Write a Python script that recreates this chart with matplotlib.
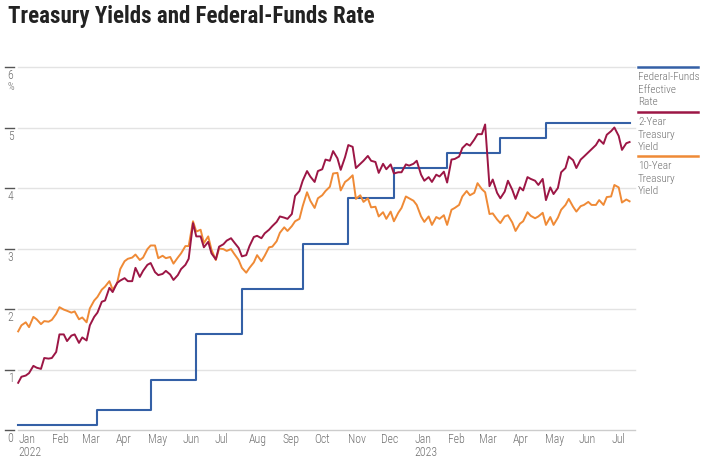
import numpy as np
import pandas as pd
import matplotlib
matplotlib.use('Agg')
import matplotlib.pyplot as plt
from matplotlib.lines import Line2D

# ── Data ─────────────────────────────────────────────────────────────
# two readings per week: Monday, Thursday (from Jan 3 2022 to Jul 20 2023)
two_year = [
    # 2022
    0.78, 0.88, 0.90, 0.94, 1.06, 1.03, 1.01, 1.19, 1.18, 1.19,   # Jan
    1.29, 1.58, 1.58, 1.47, 1.56, 1.58, 1.44, 1.53,               # Feb
    1.48, 1.73, 1.87, 1.94, 2.12, 2.14, 2.35, 2.28,               # Mar
    2.43, 2.47, 2.51, 2.46, 2.46, 2.68, 2.53, 2.63,               # Apr
    2.73, 2.76, 2.61, 2.56, 2.58, 2.63, 2.57, 2.48, 2.56, 2.66,   # May
    2.73, 2.83, 3.42, 3.20, 3.20, 3.02, 3.11, 2.92,               # Jun
    2.82, 3.03, 3.07, 3.13, 3.17, 3.10, 3.01, 2.87,               # Jul
    2.89, 3.04, 3.19, 3.21, 3.17, 3.25, 3.31, 3.37, 3.44, 3.53,   # Aug
    3.51, 3.49, 3.57, 3.87, 3.95, 4.12, 4.28, 4.19,               # Sep
    4.10, 4.28, 4.31, 4.47, 4.45, 4.61, 4.49, 4.30, 4.51, 4.71,   # Oct
    4.68, 4.33, 4.40, 4.45, 4.53, 4.45, 4.43, 4.25,               # Nov
    4.40, 4.31, 4.39, 4.24, 4.26, 4.26, 4.39, 4.37,               # Dec
    # 2023
    4.40, 4.45, 4.22, 4.12, 4.18, 4.10, 4.22, 4.19, 4.27, 4.09,   # Jan
    4.47, 4.48, 4.52, 4.66, 4.73, 4.70, 4.80, 4.89,               # Feb
    4.89, 5.05, 4.03, 4.14, 3.92, 3.83, 3.94, 4.12,               # Mar
    3.97, 3.82, 4.01, 3.96, 4.18, 4.15, 4.12, 4.05,               # Apr
    4.15, 3.80, 4.01, 3.90, 4.00, 4.26, 4.33, 4.52, 4.46, 4.33,   # May
    4.47, 4.52, 4.59, 4.64, 4.71, 4.80, 4.73, 4.88,               # Jun
    4.94, 5.00, 4.86, 4.63, 4.74, 4.76,                           # Jul
]

ten_year = [
    # 2022
    1.63, 1.73, 1.78, 1.70, 1.87, 1.83, 1.75, 1.80, 1.79, 1.82,   # Jan
    1.92, 2.03, 1.99, 1.97, 1.94, 1.96, 1.83, 1.86,               # Feb
    1.78, 2.01, 2.14, 2.20, 2.32, 2.37, 2.46, 2.32,               # Mar
    2.42, 2.66, 2.79, 2.83, 2.85, 2.90, 2.81, 2.85,               # Apr
    2.99, 3.05, 3.05, 2.84, 2.88, 2.84, 2.86, 2.75, 2.85, 2.92,   # May
    3.04, 3.04, 3.45, 3.28, 3.31, 3.09, 3.20, 2.98,               # Jun
    2.81, 3.00, 2.99, 2.96, 2.99, 2.91, 2.81, 2.68,               # Jul
    2.60, 2.68, 2.77, 2.89, 2.79, 2.88, 3.02, 3.03, 3.12, 3.26,   # Aug
    3.35, 3.29, 3.37, 3.45, 3.49, 3.70, 3.93, 3.79,               # Sep
    3.67, 3.83, 3.88, 3.95, 4.02, 4.24, 4.25, 3.96, 4.10, 4.14,   # Oct
    4.21, 3.82, 3.88, 3.77, 3.83, 3.68, 3.69, 3.53,               # Nov
    3.60, 3.49, 3.61, 3.45, 3.59, 3.67, 3.86, 3.83,               # Dec
    # 2023
    3.79, 3.72, 3.53, 3.44, 3.53, 3.39, 3.52, 3.49, 3.55, 3.39,   # Jan
    3.64, 3.67, 3.72, 3.86, 3.95, 3.88, 3.92, 4.08,               # Feb
    3.98, 3.93, 3.57, 3.58, 3.48, 3.42, 3.53, 3.55,               # Mar
    3.43, 3.29, 3.41, 3.45, 3.60, 3.54, 3.50, 3.53,               # Apr
    3.59, 3.39, 3.52, 3.39, 3.51, 3.64, 3.72, 3.82, 3.69, 3.61,   # May
    3.70, 3.72, 3.77, 3.72, 3.72, 3.80, 3.72, 3.85,               # Jun
    3.86, 4.05, 4.01, 3.76, 3.81, 3.78,                           # Jul
]

fed_dates = ['2022-01-03', '2022-03-17', '2022-05-05', '2022-06-16', '2022-07-28',
             '2022-09-22', '2022-11-03', '2022-12-15', '2023-02-02', '2023-03-23',
             '2023-05-04', '2023-07-20']
fed_rate = [0.08, 0.33, 0.83, 1.58, 2.33, 3.08, 3.83, 4.33, 4.58, 4.83, 5.08, 5.08]

y_ticks = [0, 1, 2, 3, 4, 5, 6]
month_starts = pd.date_range('2022-01-01', '2023-07-01', freq='MS')
legend_labels = [['Federal-Funds', 'Effective', 'Rate'],
                 ['2-Year', 'Treasury', 'Yield'],
                 ['10-Year', 'Treasury', 'Yield']]

mondays = pd.date_range('2022-01-03', '2023-07-17', freq='W-MON')
dates = pd.DatetimeIndex(np.ravel(np.column_stack([mondays.values,
                                                   (mondays + pd.Timedelta(days=3)).values])))
assert len(dates) == len(two_year) == len(ten_year)

# ── Style ────────────────────────────────────────────────────────────
BLUE = '#3460a6'
RED = '#9c1645'
ORANGE = '#ef8a36'
GRID = '#e3e3e3'
TXT = '#707070'
plt.rcParams['font.family'] = ['Roboto Condensed', 'DejaVu Sans']

fig = plt.figure(figsize=(7.08, 4.59), dpi=100)
W, H = 708, 459
x0, x1, y0, y1 = 16, 635, 430, 67
ax = fig.add_axes([x0 / W, 1 - y0 / H, (x1 - x0) / W, (y0 - y1) / H])

ax.plot(pd.to_datetime(fed_dates), fed_rate, drawstyle='steps-post',
        color=BLUE, lw=1.5, zorder=3)
ax.plot(dates, ten_year, color=ORANGE, lw=1.4, zorder=4)
ax.plot(dates, two_year, color=RED, lw=1.4, zorder=5)

ax.set_xlim(pd.Timestamp('2022-01-01'), pd.Timestamp('2023-07-25'))
ax.set_ylim(0, 6)

for s in ax.spines.values():
    s.set_visible(False)
ax.set_yticks([])

# gridlines + left tick marks and labels
ytr = ax.get_yaxis_transform()
px = lambda p: (p - x0) / (x1 - x0)
for v in y_ticks:
    ax.plot([0.003, 1], [v, v], transform=ytr, color='#cccccc' if v == 0 else GRID,
            lw=1, zorder=1, clip_on=False)
    ax.plot([px(5), px(14)], [v, v], transform=ytr, color='#555555', lw=1, clip_on=False)
    ax.text(px(10.5), v - 8.5 / 60.5, str(v), transform=ytr, ha='center', va='center',
            fontsize=8.5, color=TXT, fontweight='light')
ax.text(px(10.5), 6 - 20 / 60.5, '%', transform=ytr, ha='center', va='center',
        fontsize=7.5, color=TXT, fontweight='light')

# month ticks
labels = [f"{d:%b}\n{d:%Y}" if d.month == 1 else f"{d:%b}" for d in month_starts]
ax.set_xticks(month_starts + pd.Timedelta(days=2))
ax.set_xticklabels(labels, ha='left', fontsize=8.5, color=TXT, linespacing=1.0,
                   fontweight='light')
ax.tick_params(axis='x', length=0, pad=2.5)

# title
fig.text(8 / W, 1 - 17 / H, 'Treasury Yields and Federal-Funds Rate', fontsize=16.5,
         fontweight='bold', color='#222222', ha='left', va='center')

# legend on the right
colors = [BLUE, RED, ORANGE]
line_y = [67, 112, 156]
for c, ly, lab in zip(colors, line_y, legend_labels):
    fig.add_artist(Line2D([638 / W, 698 / W], [1 - ly / H, 1 - ly / H], color=c, lw=1.8))
    for i, t in enumerate(lab):
        fig.text(638 / W, 1 - (ly + 10 + 12.7 * i) / H, t, fontsize=8, color=TXT,
                 ha='left', va='center', fontweight='light')

fig.savefig('out.png', dpi=100)
